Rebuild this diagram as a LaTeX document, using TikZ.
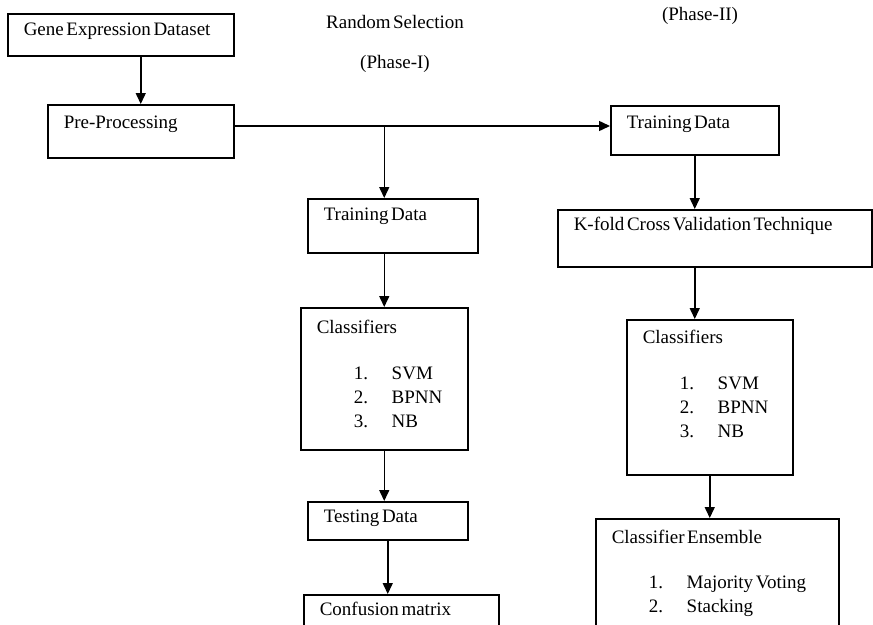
\documentclass[tikz,border=0pt]{standalone}
\usepackage{fontspec}
\setmainfont[WordSpace=0.55]{Liberation Serif}
\usetikzlibrary{calc,arrows.meta}

\newcommand{\clsline}[2]{\hspace*{37pt}\makebox[38pt][l]{#1}#2}

\begin{document}
\begin{tikzpicture}[x=1pt,y=-1pt,line width=1.5pt,>={Triangle[length=11pt,width=10pt]},
  every node/.style={font=\fontsize{19}{24}\selectfont},
  blk/.style={draw,anchor=north west,align=flush left,inner xsep=16pt,inner ysep=0pt}]
\useasboundingbox (0,0) rectangle (873,624);
\clip (0,0) rectangle (873,624);
\coordinate (R0) at (0,0);
  \node[blk,text width=194pt,text height=22pt,text depth=20pt] (R1) at ($(R0)+(7,13)$) {Gene Expression Dataset};
  \node[blk,text width=154pt,text height=24pt,text depth=29pt] (R2) at ($(R1.north west)+(40,91)$) {Pre-Processing};
  \node[blk,text width=138pt,text height=22pt,text depth=32pt] (R21) at ($(R2.north west)+(260,94)$) {Training Data};
  \node[blk,text width=135pt,text height=26pt,text depth=116pt] (R22) at ($(R21.north west)+(-7,109)$)
    {Classifiers\\[22pt] \clsline{1.}{SVM}\\ \clsline{2.}{BPNN}\\ \clsline{3.}{NB}};
  \node[blk,text width=128pt,text height=21pt,text depth=17pt] (R23) at ($(R22.north west)+(7,194)$) {Testing Data};
  \node[blk,text width=163pt,text height=21pt,text depth=45pt] (R24) at ($(R23.north west)+(-4,93)$) {Confusion matrix};
  \node[blk,text width=136pt,text height=23pt,text depth=26pt] (R31) at ($(R2.north west)+(563,1)$) {Training Data};
  \node[blk,text width=282pt,text height=21pt,text depth=36pt] (R32) at ($(R31.north west)+(-53,104)$) {K-fold Cross Validation Technique};
  \node[blk,text width=134pt,text height=24pt,text depth=131pt] (R33) at ($(R32.north west)+(69,110)$)
    {Classifiers\\[22pt] \clsline{1.}{SVM}\\ \clsline{2.}{BPNN}\\ \clsline{3.}{NB}};
  \node[blk,text width=211pt,text height=25pt,text depth=95pt] (R34) at ($(R33.north west)+(-31,199)$)
    {Classifier Ensemble\\[21pt] \clsline{1.}{Majority Voting}\\ \clsline{2.}{Stacking}};
  \node (L1) at ($(R0)+(395,22)$) {Random Selection};
  \node (L2) at ($(R0)+(395,64)$) {(Phase-I)};
  \node (L3) at ($(R0)+(700,16)$) {(Phase-II)};
  \coordinate (B0) at ($(R2.north east)+(0,22)$);
  \coordinate (B1) at (B0 -| R22.north);
  \path[->] (R1.south -| R2.north) edge (R2.north) (B0) edge (B0 -| R31.west) (B1) edge (B1 |- R21.north);
  \path[->] (R21.south -| B1) edge (B1 |- R22.north) (R22.south) edge (R22.south |- R23.north)
    (R23.south) edge (R23.south |- R24.north);
  \path[->] (R31.south) edge (R31.south |- R32.north) (R32.south -| R31.south) edge (R31.south |- R33.north)
    (R33.south) edge (R33.south |- R34.north);
\end{tikzpicture}
\end{document}
